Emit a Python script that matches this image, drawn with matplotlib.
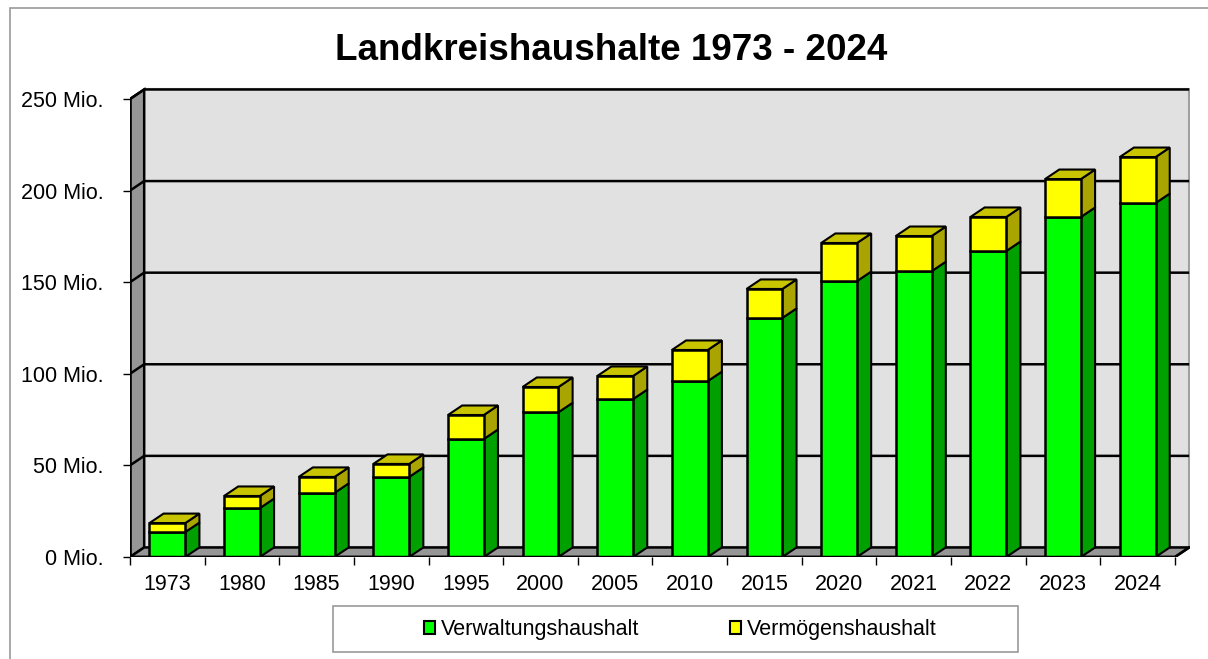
import matplotlib
matplotlib.use("Agg")
import matplotlib.pyplot as plt
from matplotlib.patches import Polygon, Patch, Rectangle

plt.rcParams['font.family'] = ['Liberation Sans', 'DejaVu Sans']

# data (Mio. Euro)
years = ["1973", "1980", "1985", "1990", "1995", "2000", "2005",
         "2010", "2015", "2020", "2021", "2022", "2023", "2024"]
verwaltung = [13.6, 26.7, 35.0, 43.7, 64.4, 79.0, 86.2, 96.0, 130.5, 150.6, 156.0, 167.0, 185.6, 193.2]
vermoegen = [4.9, 6.6, 8.7, 7.1, 13.1, 13.8, 12.6, 17.0, 15.8, 20.8, 19.2, 18.6, 20.7, 25.1]
yticks = [0, 50, 100, 150, 200, 250]

# fake 3d depth in data units
dx = 0.19
dy = 5.2
w = 0.48

W, H = 1208, 659
fig = plt.figure(figsize=(W / 100, H / 100), dpi=100)
# outer frame of the chart
fig.add_artist(Rectangle((10 / W, -0.1), 1.2, 1 - 8 / H + 0.1, transform=fig.transFigure,
                         fill=False, edgecolor='#9a9a9a', lw=1.2))

ax = fig.add_axes([130 / W, (H - 557) / H, 1060 / W, 480 / H])
ax.set_xlim(-0.5, -0.5 + 1060 / 74.64)
ax.set_ylim(0, 480 / 1.832)
for s in ax.spines.values():
    s.set_visible(False)

n = len(years)
x0, x1 = -0.5, n - 0.5
top = yticks[-1]

# back wall, left wall, floor
ax.add_patch(Polygon([(x0 + dx, dy), (x1 + dx, dy), (x1 + dx, top + dy), (x0 + dx, top + dy)],
                     facecolor='#e1e1e1', edgecolor='#a0a0a0', lw=1.5, zorder=1))
ax.add_patch(Polygon([(x0, 0), (x0 + dx, dy), (x0 + dx, top + dy), (x0, top)],
                     facecolor='#969696', edgecolor='black', lw=1.8, zorder=2))
ax.add_patch(Polygon([(x0, 0), (x1, 0), (x1 + dx, dy), (x0 + dx, dy)],
                     facecolor='#969696', edgecolor='black', lw=1.8, zorder=2))
for v in yticks[1:]:
    ax.plot([x0, x0 + dx, x1 + dx], [v, v + dy, v + dy], color='black', lw=1.8, zorder=2,
            solid_capstyle='butt')

# bars
xs = list(range(n))
green_front = '#00ff00'
green_side = '#00a000'
yel_front = '#ffff00'
yel_side = '#aaa400'
yel_top = '#c8c400'
ax.bar(xs, verwaltung, width=w, color=green_front, edgecolor='black', lw=1.8, zorder=5)
ax.bar(xs, vermoegen, width=w, bottom=verwaltung, color=yel_front, edgecolor='black', lw=1.8, zorder=5)
for i in xs:
    g = verwaltung[i]
    t = g + vermoegen[i]
    r = i + w / 2
    l = i - w / 2
    ax.add_patch(Polygon([(r, 0), (r + dx, dy), (r + dx, g + dy), (r, g)],
                         facecolor=green_side, edgecolor='black', lw=1.5, zorder=4))
    ax.add_patch(Polygon([(r, g), (r + dx, g + dy), (r + dx, t + dy), (r, t)],
                         facecolor=yel_side, edgecolor='black', lw=1.5, zorder=4))
    ax.add_patch(Polygon([(l, t), (r, t), (r + dx, t + dy), (l + dx, t + dy)],
                         facecolor=yel_top, edgecolor='black', lw=1.5, zorder=4))

# axis lines
ax.plot([x0, x0], [0, top], color='black', lw=1.8, zorder=6)
ax.plot([x0, x1, x1 + dx], [0, 0, dy], color='black', lw=1.8, zorder=6)

ax.set_yticks(yticks)
ax.set_yticklabels([f"{v} Mio." for v in yticks], fontsize=15.5)
ax.tick_params(axis='y', length=5, width=1, pad=14)
ax.set_xticks(xs)
ax.set_xticklabels(years, fontsize=15.5)
ax.tick_params(axis='x', length=0, pad=12)
ax.set_xticks([i - 0.5 for i in range(n + 1)], minor=True)
ax.tick_params(axis='x', which='minor', length=6, width=1)

fig.text(611 / W, 1 - 51 / H, "Landkreishaushalte 1973 - 2024", ha='center', va='center',
         fontsize=26.5, fontweight='bold')

# legend box drawn separately so it can be as wide as in the original
fig.add_artist(Rectangle((333 / W, 1 - 652 / H), 685 / W, 46 / H, transform=fig.transFigure,
                         facecolor='white', edgecolor='#9a9a9a', lw=1.2))
handles = [Patch(facecolor=green_front, edgecolor='black', lw=1.5),
           Patch(facecolor=yel_front, edgecolor='black', lw=1.5)]
leg = fig.legend(handles, ["Verwaltungshaushalt", "Vermögenshaushalt"], ncol=2,
                 loc='center', bbox_to_anchor=(680 / W, 1 - 630 / H), fontsize=15.5,
                 frameon=False, handlelength=0.55, handleheight=0.55,
                 handletextpad=0.25, columnspacing=4.2)

fig.savefig("out.png", dpi=100)
